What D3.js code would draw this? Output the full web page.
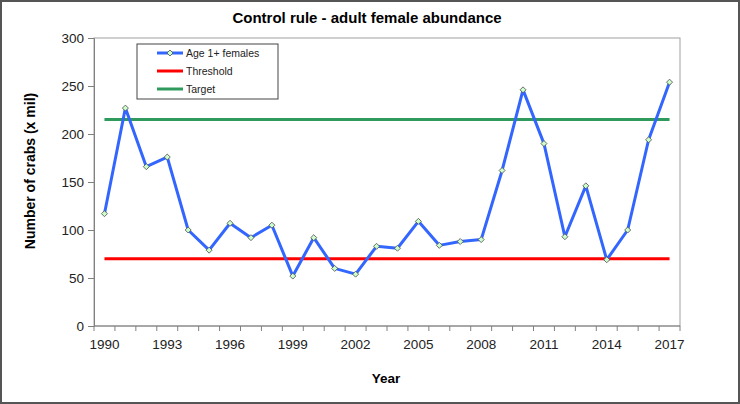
<!DOCTYPE html>
<html>
<head>
<meta charset="utf-8">
<script src="https://cdn.jsdelivr.net/npm/d3@7"></script>
<style>
  body { margin: 0; background: #fff; }
  svg { display: block; font-family: "Liberation Sans", Arial, sans-serif; }
</style>
</head>
<body>
<div id="chart"></div>
<script>
// Data
const years = d3.range(1990, 2018);
const females = [117, 227, 166, 176, 100, 79, 107, 92, 105, 52, 92, 60,
                 54, 83, 81, 109, 84, 88, 90, 162, 246, 190, 93, 146,
                 69, 100, 194, 254];
const threshold = 70;
const target = 215;
const yTicks = [0, 50, 100, 150, 200, 250, 300];
const labelYears = [1990, 1993, 1996, 1999, 2002, 2005, 2008, 2011, 2014, 2017];

const W = 740, H = 404;
const margin = { top: 38, right: 60, bottom: 78, left: 94 };
const width = W - margin.left - margin.right;
const height = H - margin.top - margin.bottom;

const svg = d3.select("#chart").append("svg")
  .attr("width", W).attr("height", H);

// outer frame
svg.append("rect")
  .attr("x", 1).attr("y", 1).attr("width", W - 2).attr("height", H - 2)
  .attr("fill", "#fff").attr("stroke", "#555").attr("stroke-width", 2);

const g = svg.append("g")
  .attr("transform", `translate(${margin.left},${margin.top})`);

const x = d3.scaleBand().domain(years).range([0, width]).padding(0);
const y = d3.scaleLinear().domain([0, 300]).range([height, 0]);
const cx = d => x(d) + x.bandwidth() / 2;

// plot area border (top/right)
g.append("rect")
  .attr("width", width).attr("height", height)
  .attr("fill", "none").attr("stroke", "#a0a0a0").attr("stroke-width", 1);

// y axis
const yAxis = d3.axisLeft(y).tickValues(yTicks).tickSize(6).tickPadding(4);
g.append("g").call(yAxis)
  .call(a => a.select(".domain").attr("stroke", "#808080"))
  .call(a => a.selectAll(".tick line").attr("stroke", "#808080"))
  .call(a => a.selectAll("text").attr("font-size", 13.5).attr("fill", "#222"));

// x axis: ticks between categories, labels every 3 years
const xa = g.append("g").attr("transform", `translate(0,${height})`);
xa.append("line").attr("x1", 0).attr("x2", width).attr("stroke", "#808080");
xa.selectAll(".xt").data(years.concat([2018]))
  .enter().append("line")
  .attr("x1", d => d === 2018 ? width : x(d))
  .attr("x2", d => d === 2018 ? width : x(d))
  .attr("y1", 0).attr("y2", 5).attr("stroke", "#808080");
xa.selectAll(".xl").data(labelYears)
  .enter().append("text")
  .attr("x", d => cx(d)).attr("y", 23)
  .attr("text-anchor", "middle").attr("font-size", 13.5).attr("fill", "#222")
  .text(d => d);

// reference lines
const hline = (val, color) => g.append("line")
  .attr("x1", cx(years[0])).attr("x2", cx(years[years.length - 1]))
  .attr("y1", y(val)).attr("y2", y(val))
  .attr("stroke", color).attr("stroke-width", 3);
hline(target, "#2e9a5c");
hline(threshold, "#ff0000");

// series
const line = d3.line().x((d, i) => cx(years[i])).y(d => y(d));
g.append("path").datum(females)
  .attr("d", line).attr("fill", "none")
  .attr("stroke", "#3366ff").attr("stroke-width", 3).attr("stroke-linejoin", "round");

const marker = d3.symbol().type(d3.symbolSquare).size(18);
g.selectAll(".pt").data(females).enter().append("path")
  .attr("d", marker)
  .attr("transform", (d, i) => `translate(${cx(years[i])},${y(d)}) rotate(45)`)
  .attr("fill", "#ccffcc").attr("stroke", "#555").attr("stroke-width", 0.8);

// titles
svg.append("text").attr("x", 367).attr("y", 23)
  .attr("text-anchor", "middle").attr("font-size", 15).attr("font-weight", "bold")
  .text("Control rule - adult female abundance");
svg.append("text").attr("x", 386).attr("y", 383)
  .attr("text-anchor", "middle").attr("font-size", 13.5).attr("font-weight", "bold")
  .text("Year");
svg.append("text")
  .attr("transform", "translate(35,171) rotate(-90)")
  .attr("text-anchor", "middle").attr("font-size", 14).attr("font-weight", "bold")
  .text("Number of crabs (x mil)");

// legend
const lg = svg.append("g").attr("transform", "translate(137,44)");
lg.append("rect").attr("width", 141).attr("height", 55)
  .attr("fill", "#fff").attr("stroke", "#444").attr("stroke-width", 1);
const items = [
  { name: "Age 1+ females", color: "#3366ff", marker: true },
  { name: "Threshold", color: "#ff0000" },
  { name: "Target", color: "#2e9a5c" }
];
items.forEach((it, i) => {
  const yy = 9 + i * 18;
  lg.append("line").attr("x1", 20).attr("x2", 46).attr("y1", yy).attr("y2", yy)
    .attr("stroke", it.color).attr("stroke-width", 3);
  if (it.marker) {
    lg.append("path").attr("d", marker).attr("transform", `translate(33,${yy}) rotate(45)`)
      .attr("fill", "#ccffcc").attr("stroke", "#555").attr("stroke-width", 0.8);
  }
  lg.append("text").attr("x", 49).attr("y", yy + 3.5)
    .attr("font-size", 10.5).attr("fill", "#222").text(it.name);
});
</script>
</body>
</html>
